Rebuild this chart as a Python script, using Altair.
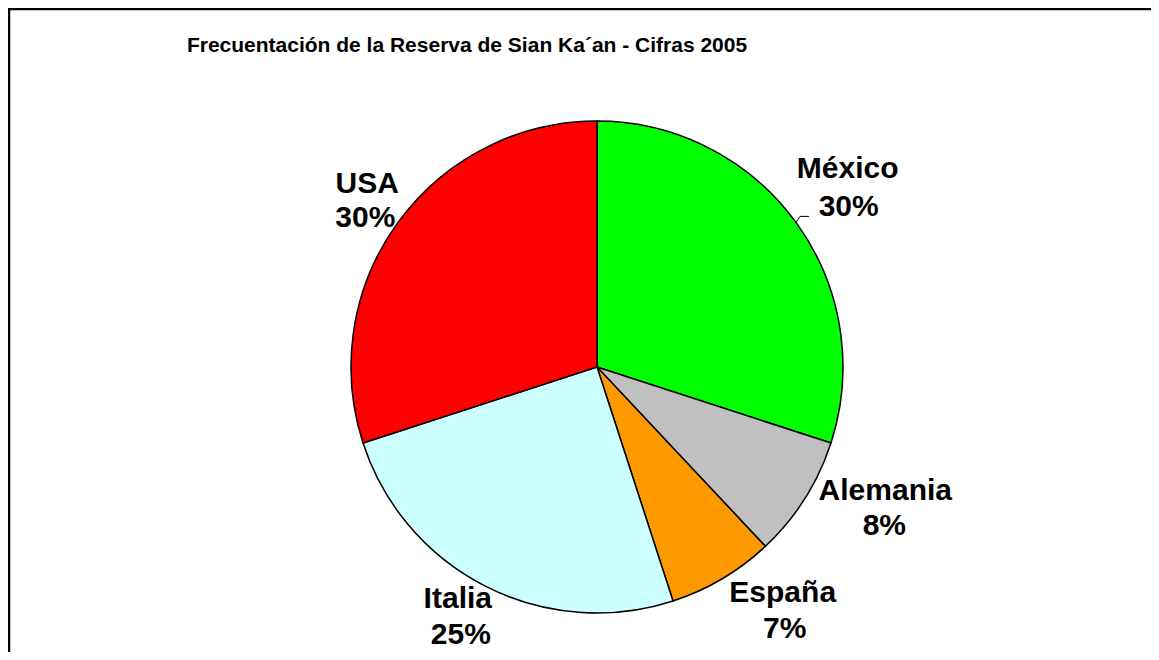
import altair as alt
import pandas as pd
import numpy as np

countries = ["México", "Alemania", "España", "Italia", "USA"]
shares = [30, 8, 7, 25, 30]
pct_labels = ["30%", "8%", "7%", "25%", "30%"]
colors = ["#00FF00", "#C0C0C0", "#FF9900", "#CCFFFF", "#FF0000"]
title_text = "Frecuentación de la Reserva de Sian Ka´an - Cifras 2005"

# layout (style) settings
W, H = 1143, 644
CX, CY, R = 589, 359, 246
LR = 300
FONT = "Liberation Sans"
# label nudges relative to the mid-angle anchor point: (name dx, name dy, pct dx, pct dy)
nudges = {
    "México": (8, -13, 9, 25),
    "Alemania": (35, -28, 34, 7),
    "España": (33, -23, 35, 13),
    "Italia": (-3, -26, 0, 10),
    "USA": (13, 2, 11, 36),
}

df = pd.DataFrame({"pais": countries, "valor": shares, "pct": pct_labels})
total = float(df["valor"].sum())
df["end"] = df["valor"].cumsum()
df["start"] = df["end"] - df["valor"]
df["mid"] = (df["start"] + df["end"]) / 2
ang = df["mid"] / total * 2 * np.pi
bx = CX + LR * np.sin(ang)
by = CY - LR * np.cos(ang)
df["nx"] = bx + [nudges[p][0] for p in df["pais"]]
df["ny"] = by + [nudges[p][1] for p in df["pais"]]
df["px"] = bx + [nudges[p][2] for p in df["pais"]]
df["py"] = by + [nudges[p][3] for p in df["pais"]]

theta_scale = alt.Scale(domain=[0, total], range=[0, 2 * np.pi])
color_scale = alt.Scale(domain=countries, range=colors)

pie = alt.Chart(df).mark_arc(stroke="black", strokeWidth=1.5, radius=R).encode(
    theta=alt.Theta("start:Q", scale=theta_scale),
    theta2="end:Q",
    color=alt.Color("pais:N", scale=color_scale, legend=None),
    x=alt.value(CX),
    y=alt.value(CY),
)

names = alt.Chart(df).mark_text(
    font=FONT, fontSize=30, fontWeight="bold", color="black",
    align="center", baseline="alphabetic",
).encode(
    x=alt.X("nx:Q", scale=None),
    y=alt.Y("ny:Q", scale=None),
    text="pais:N",
)

pcts = alt.Chart(df).mark_text(
    font=FONT, fontSize=30, fontWeight="bold", color="black",
    align="center", baseline="alphabetic",
).encode(
    x=alt.X("px:Q", scale=None),
    y=alt.Y("py:Q", scale=None),
    text="pct:N",
)

# leader line for México label
m = df[df["pais"] == "México"].iloc[0]
a = m["mid"] / total * 2 * np.pi
p0x, p0y = CX + R * np.sin(a), CY - R * np.cos(a)
leader_df = pd.DataFrame({
    "x": [p0x, p0x + 4, p0x + 13],
    "y": [p0y, p0y - 6, p0y - 6],
    "o": [0, 1, 2],
})
leader = alt.Chart(leader_df).mark_line(color="black", strokeWidth=1).encode(
    x=alt.X("x:Q", scale=None),
    y=alt.Y("y:Q", scale=None),
    order="o:Q",
)

title = alt.Chart(pd.DataFrame({"t": [title_text]})).mark_text(
    font=FONT, fontSize=21, fontWeight="bold", color="black",
    align="center", baseline="alphabetic",
).encode(
    x=alt.value(459),
    y=alt.value(44),
    text="t:N",
)

frame_top = alt.Chart(pd.DataFrame({"a": [0]})).mark_rule(color="black", strokeWidth=2.5).encode(
    x=alt.value(0), x2=alt.value(W), y=alt.value(1)
)
frame_left = alt.Chart(pd.DataFrame({"a": [0]})).mark_rule(color="black", strokeWidth=2.5).encode(
    x=alt.value(1), y=alt.value(0), y2=alt.value(H)
)

chart = alt.layer(pie, leader, names, pcts, title, frame_top, frame_left).properties(
    width=W, height=H, padding=0, autosize="none",
).configure_view(stroke=None).configure(background="white")

chart.save("out.html", embed_options={"renderer": "svg", "actions": False})
